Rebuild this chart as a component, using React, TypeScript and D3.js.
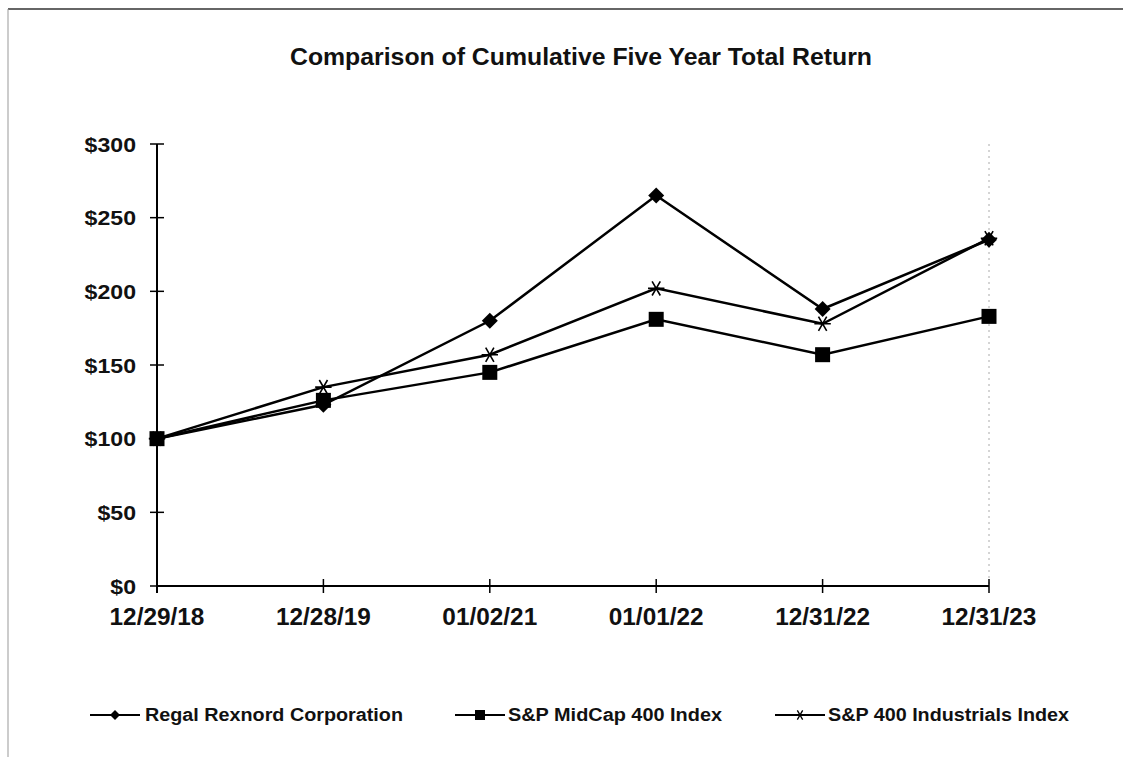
import React from "react";
import * as d3 from "d3";

const dates = ["12/29/18", "12/28/19", "01/02/21", "01/01/22", "12/31/22", "12/31/23"];
const regal = [100, 123, 180, 265, 188, 235];
const midcap = [100, 126, 145, 181, 157, 183];
const industrials = [100, 135, 157, 202, 178, 236];
const yTicks = [0, 50, 100, 150, 200, 250, 300];
const seriesNames = ["Regal Rexnord Corporation", "S&P MidCap 400 Index", "S&P 400 Industrials Index"];

const W = 1123;
const H = 757;
const FONT = "'Liberation Sans', Arial, sans-serif";

function diamondPath(r: number) {
  const p = d3.path();
  p.moveTo(0, -r);
  p.lineTo(r, 0);
  p.lineTo(0, r);
  p.lineTo(-r, 0);
  p.closePath();
  return p.toString();
}

function Marker({ kind, x, y, small }: { kind: string; x: number; y: number; small?: boolean }) {
  if (kind === "diamond") {
    return <path d={diamondPath(small ? 5 : 8)} transform={`translate(${x},${y})`} fill="#000" />;
  }
  if (kind === "square") {
    const s = small ? 10 : 15;
    return <rect x={x - s / 2} y={y - s / 2} width={s} height={s} fill="#000" />;
  }
  const p = d3.symbol(d3.symbolAsterisk, small ? 80 : 190)();
  return (
    <path
      d={p || ""}
      transform={`translate(${x},${y}) rotate(90)`}
      fill="none"
      stroke="#000"
      strokeWidth={small ? 1.3 : 1.6}
    />
  );
}

export default function App() {
  const x = d3.scalePoint<string>().domain(dates).range([157, 989]);
  const y = d3.scaleLinear().domain([0, 300]).range([586, 144]);
  const series = [
    { name: seriesNames[0], values: regal, kind: "diamond" },
    { name: seriesNames[1], values: midcap, kind: "square" },
    { name: seriesNames[2], values: industrials, kind: "star" },
  ];
  const line = d3
    .line<number>()
    .x((_, i) => x(dates[i]) as number)
    .y((d) => y(d));

  const legendPos = [
    { lx: 90, tx: 145, w: 258 },
    { lx: 455, tx: 508, w: 214 },
    { lx: 775, tx: 828, w: 241 },
  ];
  const legendY = 715;

  return (
    <svg
      width={W}
      height={H}
      viewBox={`0 0 ${W} ${H}`}
      style={{ position: "absolute", left: 0, top: 0, background: "#fff" }}
      fontFamily={FONT}
    >
      <rect x={0} y={0} width={W} height={H} fill="#fff" />
      {/* frame */}
      <line x1={8} y1={9} x2={W} y2={9} stroke="#333" strokeWidth={1.5} />
      <line x1={8} y1={9} x2={8} y2={H} stroke="#999" strokeWidth={1} />

      <text
        x={290}
        y={65}
        fontSize={23}
        fontWeight="bold"
        fill="#111"
        textLength={582}
        lengthAdjust="spacingAndGlyphs"
      >
        Comparison of Cumulative Five Year Total Return
      </text>

      {/* dotted right gridline */}
      <line x1={989} y1={144} x2={989} y2={586} stroke="#aaa" strokeWidth={1} strokeDasharray="2,4" />

      {/* y axis */}
      <line x1={157} y1={144} x2={157} y2={593} stroke="#000" strokeWidth={2} />
      {yTicks.map((t) => (
        <g key={t}>
          <line x1={150} x2={164} y1={y(t)} y2={y(t)} stroke="#000" strokeWidth={1.5} />
          <text
            x={136}
            y={y(t)}
            dy="0.36em"
            textAnchor="end"
            fontSize={21}
            fontWeight="bold"
            fill="#111"
            transform={`translate(136,0) scale(1.1,1) translate(-136,0)`}
          >
            {"$" + t}
          </text>
        </g>
      ))}

      {/* x axis */}
      <line x1={157} y1={586} x2={989} y2={586} stroke="#000" strokeWidth={2} />
      {dates.map((d) => (
        <g key={d}>
          <line x1={x(d)} x2={x(d)} y1={579} y2={593} stroke="#000" strokeWidth={1.5} />
          <text
            x={x(d)}
            y={625}
            textAnchor="middle"
            fontSize={23}
            fontWeight="bold"
            fill="#111"
            transform={`translate(${x(d)},0) scale(1.06,1) translate(${-(x(d) as number)},0)`}
          >
            {d}
          </text>
        </g>
      ))}

      {/* series */}
      {series.map((s) => (
        <g key={s.name}>
          <path d={line(s.values) || ""} fill="none" stroke="#000" strokeWidth={2.5} />
          {s.values.map((v, i) => (
            <Marker key={i} kind={s.kind} x={x(dates[i]) as number} y={y(v)} />
          ))}
        </g>
      ))}

      {/* legend */}
      {series.map((s, i) => (
        <g key={s.name}>
          <line x1={legendPos[i].lx} x2={legendPos[i].lx + 50} y1={legendY} y2={legendY} stroke="#000" strokeWidth={2} />
          <Marker kind={s.kind} x={legendPos[i].lx + 25} y={legendY} small />
          <text
            x={legendPos[i].tx}
            y={legendY}
            dy="0.36em"
            fontSize={18}
            fontWeight="bold"
            fill="#111"
            textLength={legendPos[i].w}
            lengthAdjust="spacingAndGlyphs"
          >
            {s.name}
          </text>
        </g>
      ))}
    </svg>
  );
}
